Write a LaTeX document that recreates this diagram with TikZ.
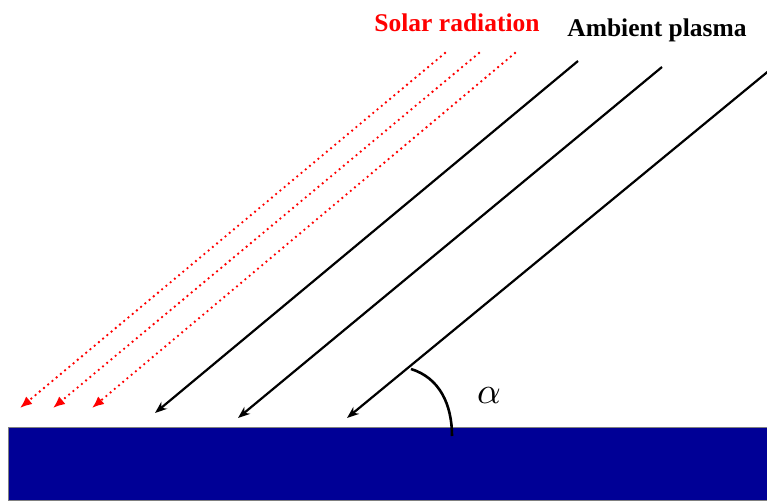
\documentclass[tikz,border=0pt]{standalone}
\usepackage{fontspec}
\setmainfont{Liberation Serif}
\usetikzlibrary{arrows.meta}
\definecolor{groundblue}{RGB}{0,0,150}

\begin{document}
\begin{tikzpicture}[
  x=1pt,y=-1pt,
  lbl/.style={font=\fontsize{25.5}{27}\selectfont\bfseries,inner sep=0pt},
  ray/.style={red,line width=2.6pt,line cap=round,dash pattern=on 0pt off 5.5pt,
    -{Latex[length=12pt,width=10pt]}},
  flow/.style={black,line width=2.2pt,-{Stealth[length=12pt,width=9pt]}},
  ground/.style={fill=groundblue,draw=gray,line width=0.8pt}
]
\useasboundingbox (0,0) rectangle (767,500);

% ground
\filldraw[ground] (8,427) rectangle (767,500);

% solar radiation
\foreach \n/\xa/\xb in {1/445/20,2/479/53,3/515/92}{
  \coordinate (r\n a) at (\xa,53);
  \coordinate (r\n b) at (\xb,408);
  \draw[ray] (r\n a) -- (r\n b);
}

% ambient plasma
\foreach \n/\xa/\ya/\xb/\yb in {1/578/61/155/413,2/662/67/238/418,3/771/69/347/418}{
  \coordinate (p\n a) at (\xa,\ya);
  \coordinate (p\n b) at (\xb,\yb);
  \draw[flow] (p\n a) -- (p\n b);
}

% angle
\coordinate (arcA) at (411,369);
\coordinate (arcB) at (452,436);
\draw[line width=2.6pt] (arcA) .. controls (440,378) and (452,405) .. (arcB);
\node (alpha) at (489,396) {\scalebox{3.7}{$\alpha$}};

\node[lbl,red] (solar) at (457,23) {Solar radiation};
\node[lbl] (amb) at (657,30) {Ambient plasma};
\end{tikzpicture}
\end{document}
